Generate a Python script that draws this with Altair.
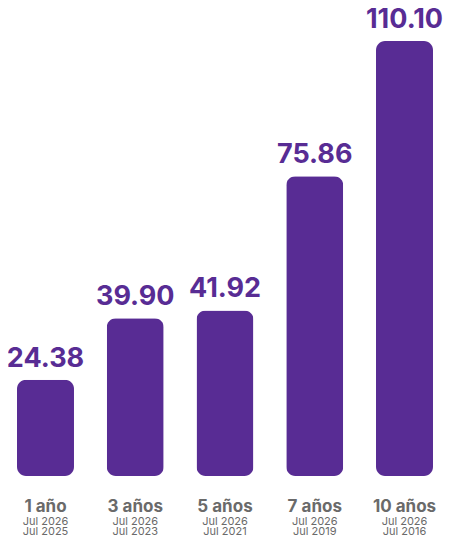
import altair as alt
import pandas as pd

periods = ["1 año", "3 años", "5 años", "7 años", "10 años"]
values = [24.38, 39.90, 41.92, 75.86, 110.10]
labels = ["24.38", "39.90", "41.92", "75.86", "110.10"]
dates = ["Jul 2026\nJul 2025", "Jul 2026\nJul 2023", "Jul 2026\nJul 2021",
         "Jul 2026\nJul 2019", "Jul 2026\nJul 2016"]

df = pd.DataFrame({"period": periods, "value": values, "label": labels, "dates": dates})

PURPLE = "#582C94"
GREY = "#6a6a6a"
FONT = "Inter"

x = alt.X("period:N", sort=periods, axis=None,
          scale=alt.Scale(paddingInner=0.365, paddingOuter=0.1003))
y = alt.Y("value:Q", axis=None, scale=alt.Scale(domain=[0, 110.10], nice=False, zero=True))

base = alt.Chart(df)

bars = base.mark_bar(cornerRadius=9, color=PURPLE).encode(x=x, y=y)

vals = base.mark_text(font=FONT, fontSize=27, fontWeight="bold", color=PURPLE,
                      baseline="alphabetic", dy=-13).encode(x=x, y=y, text="label:N")

years = base.mark_text(font=FONT, fontSize=17, fontWeight="bold", color=GREY,
                       baseline="alphabetic", dy=36).encode(x=x, y=alt.datum(0), text="period:N")

dts = base.mark_text(font=FONT, fontSize=11, color=GREY, baseline="alphabetic",
                     lineBreak="\n", lineHeight=10, dy=49).encode(x=x, y=alt.datum(0), text="dates:N")

chart = alt.layer(bars, vals, years, dts).properties(
    width=434, height=435,
    autosize=alt.AutoSizeParams(type="none"),
    padding={"left": 0, "top": 33, "right": 2, "bottom": 60},
).configure_view(stroke=None)

chart.save("out.html", embed_options={"renderer": "svg", "actions": False})
